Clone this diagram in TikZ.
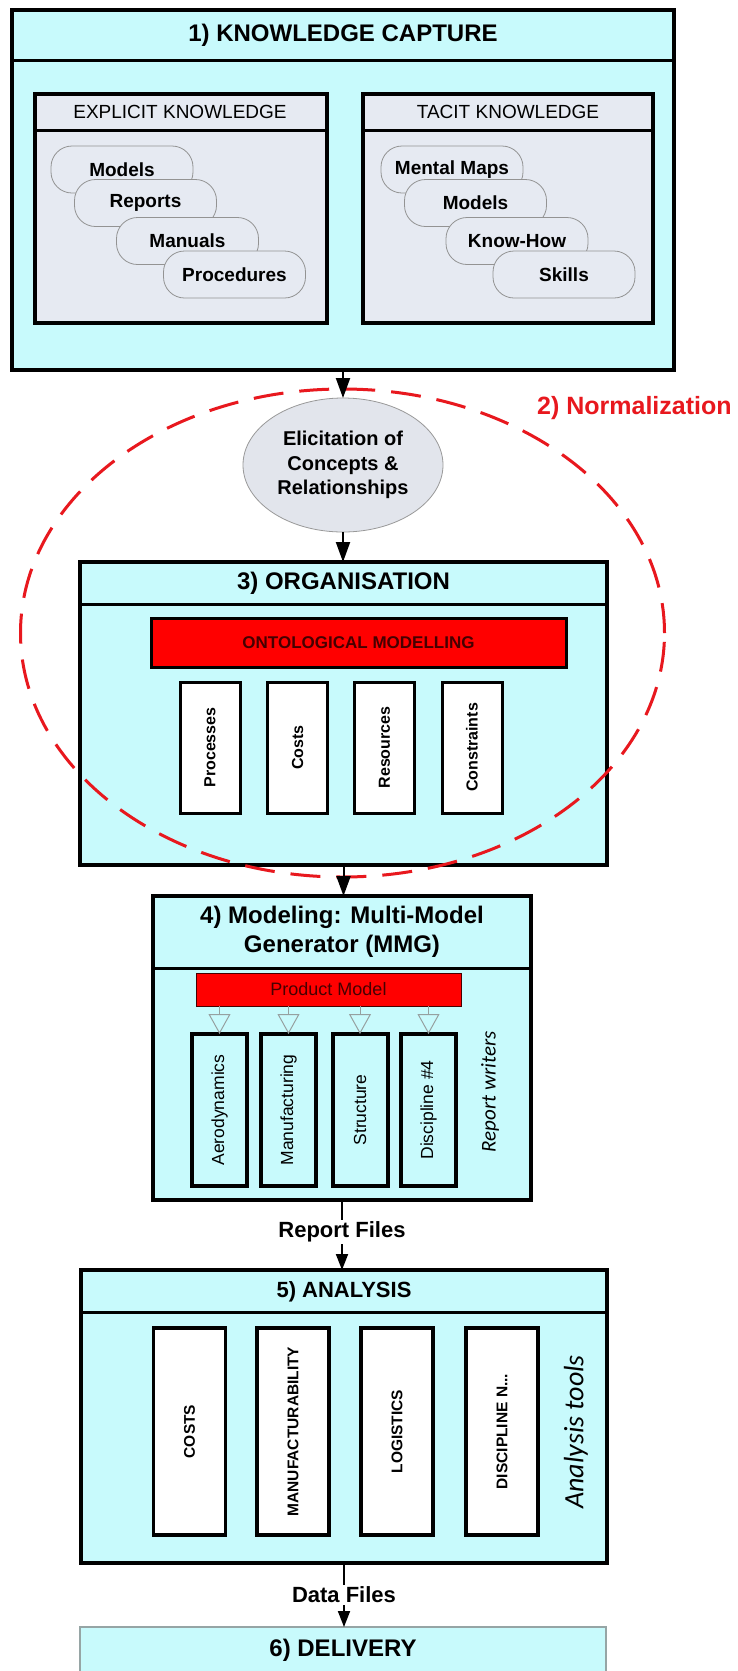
\documentclass[tikz,border=0pt]{standalone}
\usepackage{fontspec}
\setmainfont{Liberation Sans}
\newfontfamily\calib{Carlito}
\usetikzlibrary{arrows.meta,shapes.geometric}
\definecolor{cyanbg}{RGB}{200,250,252}
\definecolor{grayfill}{RGB}{230,234,242}
\definecolor{ellfill}{RGB}{226,229,236}
\definecolor{normred}{RGB}{232,24,30}
\definecolor{barred}{RGB}{255,0,0}
\definecolor{darkred}{RGB}{70,0,0}
\definecolor{trigray}{RGB}{150,160,160}
\definecolor{delgray}{RGB}{150,165,165}
\tikzset{
  panel/.style={draw=black, line width=3.5pt, fill=cyanbg, inner sep=0pt, outer sep=0pt},
  divider/.style={draw=black, line width=3pt},
  innerbox/.style={draw=black, line width=3.5pt, fill=grayfill, inner sep=0pt, outer sep=0pt},
  pill/.style={draw=gray!85, line width=0.8pt, fill=grayfill, rounded corners=21pt,
    minimum width=142pt, minimum height=47pt, inner sep=0pt,
    font=\bfseries\fontsize{19pt}{23pt}\selectfont},
  titletext/.style={inner sep=0pt, font=\bfseries\fontsize{24pt}{29pt}\selectfont, align=center},
  subtitle/.style={inner sep=0pt, font=\fontsize{19pt}{23pt}\selectfont},
  elli/.style={ellipse, draw=gray!80, line width=0.8pt, fill=ellfill, minimum width=200pt,
    minimum height=134pt, inner sep=0pt, outer sep=0pt, align=center,
    font=\bfseries\fontsize{20pt}{24.5pt}\selectfont},
  redbar/.style={draw=black, line width=3pt, fill=barred, inner sep=0pt, outer sep=0pt,
    text=darkred, font=\bfseries\fontsize{17pt}{20pt}\selectfont},
  pbar/.style={draw=darkred, line width=1pt, fill=barred, inner sep=0pt, outer sep=0pt,
    text=darkred, font=\fontsize{18pt}{22pt}\selectfont},
  orgbox/.style={draw=black, line width=3pt, fill=white, inner sep=0pt, outer sep=0pt,
    minimum width=60pt, minimum height=131pt, font=\bfseries\fontsize{16pt}{19pt}\selectfont},
  mmgbox/.style={draw=black, line width=4pt, fill=cyanbg, inner sep=0pt, outer sep=0pt,
    minimum width=55pt, minimum height=152pt, font=\fontsize{17.5pt}{21pt}\selectfont},
  anabox/.style={draw=black, line width=3.5pt, fill=white, inner sep=0pt, outer sep=0pt,
    minimum width=72pt, minimum height=207pt, font=\bfseries\fontsize{15.5pt}{18pt}\selectfont},
  sidelabel/.style={inner sep=0pt, font=\calib\itshape\fontsize{21pt}{25pt}\selectfont},
  normdash/.style={draw=normred, line width=3pt, dash pattern=on 30pt off 16pt},
  normlabel/.style={inner sep=0pt, text=normred, font=\bfseries\fontsize{25pt}{29pt}\selectfont},
  conn/.style={draw=black, line width=2pt, -{Triangle[length=20pt,width=14pt]}},
  conn2/.style={draw=black, line width=1.8pt, -{Triangle[length=16pt,width=12pt]}},
  tri/.style={draw=trigray, line width=1pt, -{Triangle[open,length=20pt,width=22pt,line width=1pt]}},
  flabel/.style={fill=white, inner sep=2pt, font=\bfseries\fontsize{22pt}{26pt}\selectfont},
  delbox/.style={draw=delgray, line width=1.5pt, fill=cyanbg, inner sep=0pt, outer sep=0pt}
}
\begin{document}
\begin{tikzpicture}[x=1pt,y=-1pt]
\useasboundingbox (0,0) rectangle (737,1671);
\fill[white] (0,0) rectangle (737,1671);

% ---------- 1) Knowledge capture ----------
\node[panel, minimum width=662pt, minimum height=360pt] (kc) at (343,190) {};
\draw[divider] (12,60) -- (674,60);
\node[titletext] (kct) at (343,35) {1) KNOWLEDGE CAPTURE};

\node[innerbox, minimum width=292pt, minimum height=229pt] (ek) at (181,208.5) {};
\draw[divider] (35,130) -- (327,130);
\node[subtitle] (ekt) at (180,112) {EXPLICIT KNOWLEDGE};
\node[pill] (e1) at (122,169.5) {Models};
\node[pill] (e2) at (145.5,203) {Reports};
\node[pill] (e3) at (187.5,241) {Manuals};
\node[pill] (e4) at (234.5,274.5) {Procedures};

\node[innerbox, minimum width=290pt, minimum height=229pt] (tk) at (508,208.5) {};
\draw[divider] (363,130) -- (653,130);
\node[subtitle] (tkt) at (508,112) {TACIT KNOWLEDGE};
\node[pill] (t1) at (452,169.5) {Mental Maps};
\node[pill] (t2) at (475.5,203) {Models};
\node[pill] (t3) at (517,241) {Know-How};
\node[pill] (t4) at (564,274.5) {Skills};

% ---------- Elicitation ----------
\node[elli] (elic) at (343,465) {Elicitation of\\Concepts \&\\Relationships};

% ---------- 3) Organisation ----------
\node[panel, minimum width=527pt, minimum height=303pt] (org) at (343.5,713.5) {};
\draw[divider] (80,604) -- (607,604);
\node[titletext] (orgt) at (343.5,583) {3) ORGANISATION};
\node[redbar, minimum width=415pt, minimum height=49pt] (onto) at (358.5,642.5) {ONTOLOGICAL MODELLING};
\node[orgbox] (o1) at (210,747.5) {\rotatebox{90}{Processes}};
\node[orgbox] (o2) at (297.5,747.5) {\rotatebox{90}{Costs}};
\node[orgbox] (o3) at (384.5,747.5) {\rotatebox{90}{Resources}};
\node[orgbox] (o4) at (472,747.5) {\rotatebox{90}{Constraints}};

% ---------- 2) Normalization ----------
\draw[normdash] (342.5,633) ellipse [x radius=322pt, y radius=244pt];
\node[normlabel, anchor=west] (normt) at (537,408) {2) Normalization};

% ---------- 4) Modeling ----------
\node[panel, minimum width=378pt, minimum height=304pt] (mmg) at (342,1048) {};
\draw[divider] (153,968) -- (531,968);
\node[titletext] (mmgt) at (342,931.5) {4) Modeling: Multi-Model\\Generator (MMG)};
\node[pbar, minimum width=265pt, minimum height=33pt] (pm) at (328.5,989.5) {Product Model};
\node[mmgbox] (m1) at (219.5,1110) {\rotatebox{90}{Aerodynamics}};
\node[mmgbox] (m2) at (288.5,1110) {\rotatebox{90}{Manufacturing}};
\node[mmgbox] (m3) at (360,1110) {\rotatebox{90}{Structure}};
\node[mmgbox] (m4) at (428.5,1110) {\rotatebox{90}{Discipline \#4}};
\node[sidelabel] (rw) at (490,1092) {\rotatebox{90}{Report writers}};
\draw[tri] (pm.south -| m1.north) -- (m1.north);
\draw[tri] (pm.south -| m2.north) -- (m2.north);
\draw[tri] (pm.south -| m3.north) -- (m3.north);
\draw[tri] (pm.south -| m4.north) -- (m4.north);

% ---------- 5) Analysis ----------
\node[panel, minimum width=526pt, minimum height=293pt] (ana) at (344,1416.5) {};
\draw[divider] (81,1312) -- (607,1312);
\node[titletext, font=\bfseries\fontsize{22pt}{26pt}\selectfont] (anat) at (344,1292) {5) ANALYSIS};
\node[anabox] (a1) at (189.5,1431.5) {\rotatebox{90}{COSTS}};
\node[anabox] (a2) at (293,1431.5) {\rotatebox{90}{MANUFACTURABILITY}};
\node[anabox] (a3) at (397,1431.5) {\rotatebox{90}{LOGISTICS}};
\node[anabox] (a4) at (502,1431.5) {\rotatebox{90}{DISCIPLINE N...}};
\node[sidelabel, font=\calib\itshape\fontsize{28pt}{32pt}\selectfont] (at) at (576,1432) {\rotatebox{90}{Analysis tools}};

% ---------- 6) Delivery ----------
\node[delbox, minimum width=526pt, minimum height=80pt, anchor=north] (del) at (343,1627) {};
\node[titletext] (delt) at (343,1650) {6) DELIVERY};

% ---------- connectors ----------
\draw[conn] (kc.south) -- (elic.north);
\draw[conn] (elic.south) -- (elic.south |- org.north);
\draw[conn] (org.south) -- (org.south |- mmg.north);
\draw[conn2] (mmg.south) -- node[flabel, pos=0.46] (rf) {Report Files} (mmg.south |- ana.north);
\draw[conn2] (ana.south) -- node[flabel, pos=0.5] (df) {Data Files} (ana.south |- del.north);
\end{tikzpicture}
\end{document}
